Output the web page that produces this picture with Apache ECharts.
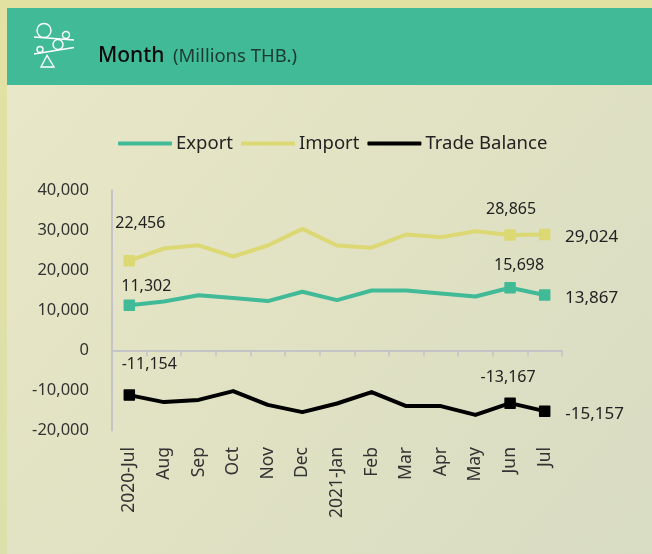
<!DOCTYPE html>
<html>
<head>
<meta charset="utf-8">
<style>html,body{margin:0;padding:0;background:#e2e0a6}#c{width:652px;height:554px}</style>
<script src="https://cdn.jsdelivr.net/npm/echarts@6/dist/echarts.min.js"></script>
</head>
<body>
<div id="c"></div>
<script>
const categories = ['2020-Jul','Aug','Sep','Oct','Nov','Dec','2021-Jan','Feb','Mar','Apr','May','Jun','Jul'];
const exportValues = [11302,12250,13800,13100,12350,14700,12600,15000,15000,14250,13500,15698,13867];
const importValues = [22456,25500,26300,23500,26250,30400,26250,25700,29000,28300,29800,28865,29024];
const balanceValues = [-11154,-12900,-12350,-10150,-13600,-15400,-13250,-10400,-13900,-13900,-16100,-13167,-15157];
const yTicks = {min:-20000,max:40000,interval:10000};

const FONT = '"Noto Sans", "Open Sans", sans-serif';
const fmt = v => Math.abs(v).toLocaleString('en-US');
const signed = v => (v<0?'-':'') + fmt(v);

// label offsets relative to each marked point: first, Jun, Jul
function build(name, values, color, offs){
  const marked = {0:offs[0], 11:offs[1], 12:offs[2]};
  return {
    name, type:'line', data: values.map((v,i)=>{
      if(!(i in marked)) return {value:v, symbol:'none', label:{show:false}};
      return {value:v, symbol:'rect', symbolSize:10,
        itemStyle:{color, borderColor:color, borderWidth:1.5, borderJoin:'round'},
        label:{show:true, position:'inside', offset:marked[i], formatter:signed(v),
          fontFamily:FONT, fontSize:i===12?17:16, color:'#222'}};
    }),
    lineStyle:{color, width:4, cap:'round', join:'round'},
    itemStyle:{color},
    showSymbol:true, silent:true, animation:false, z: 3
  };
}

const icon = [
  {type:'circle',shape:{cx:44,cy:30.5,r:7}},
  {type:'circle',shape:{cx:66,cy:35,r:3.5}},
  {type:'line',shape:{x1:34,y1:37,x2:74,y2:40}},
  {type:'circle',shape:{cx:58,cy:44.5,r:5}},
  {type:'circle',shape:{cx:40,cy:49.5,r:3}},
  {type:'line',shape:{x1:34,y1:54,x2:74,y2:47.5}},
  {type:'polygon',shape:{points:[[47,55.5],[41,67],[54,67]]}}
].map(o=>Object.assign(o,{style:{fill:'none',stroke:'#fff',lineWidth:1.4},z:2,silent:true}));

const option = {
  animation:false,
  backgroundColor:{type:'linear',x:0,y:0,x2:0,y2:1,colorStops:[{offset:0,color:'#e3e1a2'},{offset:1,color:'#dbe0ab'}]},
  graphic:[
    {type:'rect',shape:{x:7,y:8,width:645,height:546},z:-2,silent:true,
     style:{fill:{type:'linear',x:0,y:0,x2:1,y2:1,colorStops:[{offset:0,color:'#e9e8c9'},{offset:0.5,color:'#e1e2c3'},{offset:1,color:'#d8dcc3'}]}}},
    {type:'rect',shape:{x:7,y:8,width:645,height:77},z:1,silent:true,style:{fill:'#41ba97'}},
    ...icon,
    {type:'text',x:98,y:56,z:2,silent:true,style:{text:'Month',fontFamily:FONT,fontSize:21,fontWeight:500,fill:'#0a0a0a',textVerticalAlign:'middle'}},
    {type:'text',x:173,y:57,z:2,silent:true,style:{text:'(Millions THB.)',fontFamily:FONT,fontSize:18.5,fill:'#1c3a30',textVerticalAlign:'middle'}}
  ],
  legend:{
    left:113, top:129, icon:'roundRect', itemWidth:54, itemHeight:4, itemGap:8,
    textStyle:{fontFamily:FONT,fontSize:18.5,color:'#222',padding:[0,0,0,-1]},
    selectedMode:false,
    data:[
      {name:'Export',itemStyle:{color:'#41ba97',borderWidth:0}},
      {name:'Import',itemStyle:{color:'#dcd873',borderWidth:0}},
      {name:'Trade Balance',itemStyle:{color:'#000',borderWidth:0}}
    ]
  },
  grid:{left:112,right:90,top:190.5,bottom:123.5,outerBoundsMode:'none',containLabel:false},
  xAxis:{
    type:'category',data:categories,boundaryGap:true,
    axisLine:{onZero:true,lineStyle:{color:'#c4c4c8',width:2}},
    axisTick:{show:true,length:6,lineStyle:{color:'#c4c4c8',width:1.5}},
    axisLabel:{interval:0,rotate:90,margin:16.5,fontFamily:FONT,fontSize:17.5,color:'#333',padding:[0,0,4,0]},
    splitLine:{show:false}
  },
  yAxis:{
    type:'value',min:yTicks.min,max:yTicks.max,interval:yTicks.interval,
    axisLine:{show:true,onZero:false,lineStyle:{color:'#c4c4c8',width:2}},
    axisTick:{show:false},splitLine:{show:false},
    axisLabel:{margin:23,fontFamily:FONT,fontSize:16.5,color:'#333',formatter:signed,padding:[0,0,4,0]}
  },
  series:[
    build('Export',exportValues,'#41ba97',[[17,-19],[9,-22],[47,3]]),
    build('Import',importValues,'#dcd873',[[11,-37],[1,-26],[47,3]]),
    build('Trade Balance',balanceValues,'#000',[[20,-31],[-2,-26],[50,3]])
  ]
};
const chart = echarts.init(document.getElementById('c'),null,{renderer:'canvas',width:652,height:554});
chart.setOption(option);
</script>
</body>
</html>
